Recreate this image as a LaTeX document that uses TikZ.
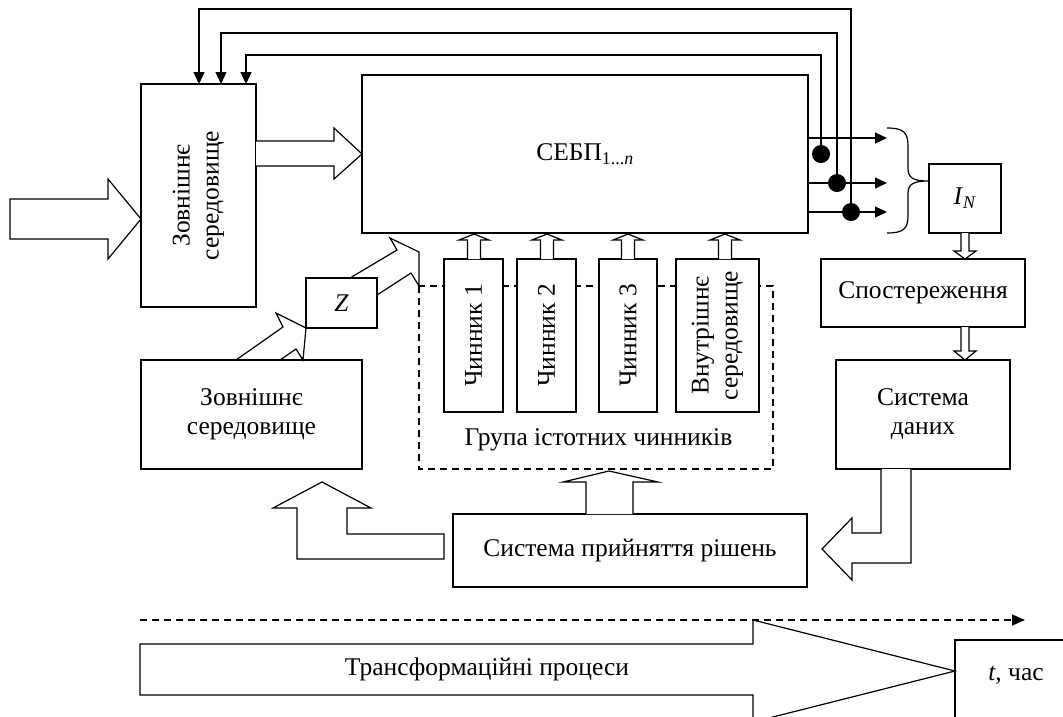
\documentclass[tikz,border=0pt]{standalone}
\usepackage{fontspec}
\setmainfont{Liberation Serif}
\usetikzlibrary{arrows.meta,calc}
\begin{document}
\begin{tikzpicture}[x=1pt,y=-1pt, line width=1.2pt, line join=miter,
  font=\fontsize{25.5}{29}\selectfont,
  box/.style={draw, fill=white, inner sep=0pt, outer sep=0pt, align=center},
  txt/.style={inner sep=0pt, align=center},
  blk/.style={draw, fill=white},
  fb/.style={-{Triangle[length=12pt,width=11pt]}},
  grp/.style={draw, dash pattern=on 7pt off 5pt}]
\useasboundingbox (0,0) rectangle (1063,716);

% dashed group box
\draw[grp] (419,286) rectangle (773,469);
\node[txt] (grplbl) at (598.5,440) {Група істотних чинників};

% main boxes
\node[box, minimum width=115pt, minimum height=223pt] (ext1) at (198.5,195.5) {};
\node[txt, rotate=90] at (ext1.center) {Зовнішнє\\середовище};
\node[box, minimum width=446pt, minimum height=158pt] (sebp) at (585,154) {СЕБП\textsubscript{1...\textit{n}}};
\node[box, minimum width=221pt, minimum height=109pt] (ext2) at (251.5,414.5) {Зовнішнє\\середовище};
\node[box, minimum width=71pt, minimum height=50pt] (z) at (341.5,303) {\textit{Z}};
\node[box, minimum width=72pt, minimum height=69pt] (in) at (965,198.5) {\textit{I}\textsubscript{\textit{N}}};
\node[box, minimum width=204pt, minimum height=68pt] (obs) at (923,293) {Спостереження};
\node[box, minimum width=174pt, minimum height=109pt] (data) at (923,414.5) {Система\\даних};
\node[box, minimum width=354pt, minimum height=73pt] (dec) at (630,550.5) {Система прийняття рішень};

% factor boxes
\node[box, minimum width=59pt, minimum height=153pt] (c1) at (473.5,335.5) {};
\node[txt, rotate=90] at (c1.center) {Чинник 1};
\node[box, minimum width=59pt, minimum height=153pt] (c2) at (546.5,335.5) {};
\node[txt, rotate=90] at (c2.center) {Чинник 2};
\node[box, minimum width=58pt, minimum height=153pt] (c3) at (628,335.5) {};
\node[txt, rotate=90] at (c3.center) {Чинник 3};
\node[box, minimum width=83pt, minimum height=153pt] (c4) at (717.5,335.5) {};
\node[txt, rotate=90] at (c4.center) {Внутрішнє\\середовище};

% small arrows factors -> SEBP
\foreach \cx in {474,547,628,725}{
  \draw[blk] (\cx-6.5,259) -- (\cx-6.5,240) -- (\cx-15,240) -- (\cx,234) -- (\cx+15,240) -- (\cx+6.5,240) -- (\cx+6.5,259);
}

% input arrow on the left
\draw[blk] (10,199) -- (108,199) -- (108,179) -- (141,219) -- (108,259) -- (108,239) -- (10,239) -- cycle;
% ext1 -> sebp
\draw[blk] (256,141) -- (334,141) -- (334,128) -- (362,154) -- (334,179) -- (334,166) -- (256,166);

% ext2 -> Z
\draw (236,360) -- (283,327) -- (276,313) -- (306,328) -- (303,360) -- (296,349) -- (280,360);
% Z -> sebp
\draw (350,278) -- (397,250) -- (390,238) -- (419,252) -- (419,286) -- (411,273) -- (377,295);

% output lines, dots and feedback
\coordinate (d1) at (821,154);
\coordinate (d2) at (837,183);
\coordinate (d3) at (851,212);
\foreach \yy in {138,183,212}{
  \draw[fb] (808,\yy) -- (887,\yy);
}
\draw[fb] (d3) -- (851,9) -| (199,84);
\draw[fb] (d2) -- (837,33) -| (221,84);
\draw[fb] (d1) -- (821,55) -| (246,84);
\fill (d1) circle[radius=9pt];
\fill (d2) circle[radius=9pt];
\fill (d3) circle[radius=9pt];

% brace
\draw (887,128) .. controls (903,128) and (908,132) .. (908,146) -- (908,168)
  .. controls (908,178) and (913,181) .. (929,181)
  .. controls (913,181) and (908,184) .. (908,194) -- (908,216)
  .. controls (908,229) and (903,233) .. (887,233);

% I_N -> obs, obs -> data
\draw[blk] (961,233) -- (961,251) -- (954,251) -- (965,259) -- (976,251) -- (969,251) -- (969,233);
\draw[blk] (961,327) -- (961,351) -- (954,351) -- (965,360) -- (976,351) -- (969,351) -- (969,327);

% data -> decision (bent)
\draw[blk] (881,469) -- (881,533) -- (852,533) -- (852,518) -- (822,549) -- (852,580) -- (852,563) -- (911,563) -- (911,469);

% decision -> ext2 (bent)
\draw[blk] (444,534) -- (347,534) -- (347,508) -- (371,508) -- (322,482) -- (273,508) -- (297,508) -- (297,559) -- (444,559) -- cycle;

% decision -> group
\draw[blk] (586,514) -- (586,482) -- (563,482) -- (609,471) -- (658,482) -- (633,482) -- (633,514);

% time line
\draw[dash pattern=on 7pt off 5pt, -{Triangle[length=13pt,width=11pt]}] (140,620) -- (1025,620);
\draw[blk] (140,644) -- (753,644) -- (753,620) -- (955,671) -- (753,722) -- (753,695) -- (140,695) -- cycle;
\node[txt] (tp) at (487,669) {Трансформаційні процеси};
\draw (955,720) -- (955,640) -- (1070,640);
\node[txt] (tbox) at (1016,675) {\textit{t}, час};
\end{tikzpicture}
\end{document}
